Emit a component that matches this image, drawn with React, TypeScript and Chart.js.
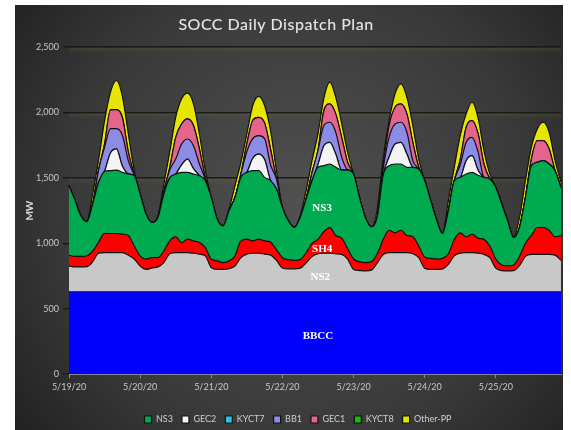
import React, { useEffect, useRef } from "react";
import { Chart, registerables } from "chart.js";

Chart.register(...registerables);

const chartTitle = "SOCC Daily Dispatch Plan";
const dates = ["5/19/20", "5/20/20", "5/21/20", "5/22/20", "5/23/20", "5/24/20", "5/25/20"];
const hoursOfDay = ["0:00", "2:00", "4:00", "6:00", "8:00", "10:00", "12:00", "14:00", "16:00", "18:00", "20:00", "22:00"];
const timeLabels = dates.flatMap((d) => hoursOfDay.map((h) => `${d} ${h}`));

const bbcc = [
  630,630,630,630,630,630,630,630,630,630,630,630,
  630,630,630,630,630,630,630,630,630,630,630,630,
  630,630,630,630,630,630,630,630,630,630,630,630,
  630,630,630,630,630,630,630,630,630,630,630,630,
  630,630,630,630,630,630,630,630,630,630,630,630,
  630,630,630,630,630,630,630,630,630,630,630,630,
  630,630,630,630,630,630,630,630,630,630,630,630,
];
const ns2 = [
  197,190,190,192,230,295,299,299,299,299,280,250,
  197,171,182,190,223,290,299,299,299,294,287,274,
  184,171,171,176,197,261,287,294,294,287,280,240,
  182,175,175,180,220,270,290,295,295,290,285,250,
  170,162,159,165,220,285,299,299,299,299,290,260,
  180,171,171,175,210,275,295,299,299,295,285,260,
  180,162,159,162,200,270,285,285,285,285,280,240,
];
const sh4 = [
  82,80,80,83,80,85,146,146,146,141,150,100,
  77,78,79,71,89,99,120,77,103,95,89,64,
  65,65,52,60,77,128,115,95,108,102,100,80,
  78,70,65,65,80,100,110,165,195,140,125,80,
  80,68,64,65,70,115,171,151,171,131,130,90,
  85,84,79,80,80,125,155,121,141,115,115,90,
  70,43,38,43,70,100,145,206,206,185,140,190,
];
const ns3 = [
  531,430,310,260,362,456,475,480,485,472,470,537,
  473,344,268,306,435,481,480,536,510,510,511,510,
  471,319,280,384,446,485,510,536,523,485,470,465,
  384,297,251,322,408,478,551,503,486,521,520,600,
  649,490,344,266,280,490,493,526,506,521,531,588,
  585,445,300,190,329,448,424,480,472,480,474,511,
  547,465,345,209,221,350,533,498,511,506,505,367,
];
const gec2 = [
  0,0,0,0,0,0,0,135,161,48,0,0,
  0,0,0,0,0,0,0,58,102,41,0,0,
  0,0,0,0,0,0,0,95,127,136,0,0,
  0,0,0,0,0,0,19,153,166,101,0,0,
  0,0,0,0,0,0,66,153,166,101,0,0,
  0,0,0,0,0,0,0,102,128,40,0,0,
  0,0,0,0,0,0,0,0,0,0,0,0,
];
const kyct7 = [
  0,0,0,0,0,0,0,0,0,0,0,0,
  0,0,0,0,0,0,0,0,0,0,0,0,
  0,0,0,0,0,0,0,0,0,0,0,0,
  0,0,0,0,0,0,0,0,0,0,0,0,
  0,0,0,0,0,0,0,0,0,0,0,0,
  0,0,0,0,0,0,0,0,0,0,0,0,
  0,0,0,0,0,0,0,0,0,0,0,0,
];
const bb1 = [
  0,0,0,0,0,94,184,187,156,236,102,3,
  0,0,0,0,23,60,115,159,153,176,89,12,
  0,0,0,0,0,26,158,150,141,160,120,76,
  0,0,0,0,0,62,108,154,153,167,99,0,
  0,0,0,0,0,50,151,153,153,167,51,0,
  0,0,0,0,0,0,96,140,140,140,0,0,
  0,0,0,0,0,0,0,0,0,0,0,0,
];
const gec1 = [
  0,0,0,0,0,0,26,143,145,137,68,0,
  0,0,0,0,0,20,166,154,154,154,115,10,
  0,0,0,0,0,0,60,140,140,120,120,0,
  0,0,0,0,0,0,0,115,141,140,151,59,
  0,0,0,0,0,20,90,128,141,140,140,13,
  0,0,0,0,0,0,40,115,128,140,102,0,
  0,0,0,0,0,0,51,166,153,115,0,0,
];
const kyct8 = [
  0,0,0,0,0,0,0,0,0,0,0,0,
  0,0,0,0,0,0,0,0,0,0,0,0,
  0,0,0,0,0,0,0,0,0,0,0,0,
  0,0,0,0,0,0,0,0,0,0,0,0,
  0,0,0,0,0,0,0,0,0,0,0,0,
  0,0,0,0,0,0,0,0,0,0,0,0,
  0,0,0,0,0,0,0,0,0,0,0,0,
];
const otherPP = [
  0,0,0,0,75,80,175,135,222,161,138,35,
  0,0,0,13,52,120,153,191,196,166,115,55,
  0,0,0,12,90,89,76,113,159,133,141,64,
  0,0,0,13,64,92,128,95,165,128,107,76,
  0,0,0,0,60,60,38,102,153,128,128,63,
  0,0,0,0,76,103,183,102,140,120,102,38,
  0,0,0,0,76,128,90,89,140,128,77,39,
];

const seriesNames = ["BBCC", "NS2", "SH4", "NS3", "GEC2", "KYCT7", "BB1", "GEC1", "KYCT8", "Other-PP"];
const legendSeries = ["NS3", "GEC2", "KYCT7", "BB1", "GEC1", "KYCT8", "Other-PP"];

// on-chart annotations
const annoText = ["NS3", "SH4", "NS2", "BBCC"];
const annoIndex = [42.7, 42.7, 42.4, 42.0];
const annoValue = [1272, 958, 743, 291];

const yTicks = [0, 500, 1000, 1500, 2000, 2500];

export default function App() {
  const ref = useRef<HTMLCanvasElement | null>(null);

  useEffect(() => {
    document.body.style.margin = "0";
    const canvas = ref.current;
    if (!canvas) return;

    const values = [bbcc, ns2, sh4, ns3, gec2, kyct7, bb1, gec1, kyct8, otherPP];
    const fills = ["#0000ff", "#c8c8c8", "#ff0000", "#00aa50", "#f4f4f4", "#22c8dc", "#8c8ce6", "#e4648c", "#12c012", "#e6e600"];
    const borders = ["#10106a", "#111", "#111", "#111", "#111", "#111", "#111", "#111", "#111", "#111"];

    const datasets = values.map((v, i) => ({
      label: seriesNames[i],
      data: v,
      backgroundColor: fills[i],
      borderColor: borders[i],
      borderWidth: 1.2,
      pointRadius: 0,
      fill: i === 0 ? "origin" : "-1",
      cubicInterpolationMode: "monotone" as const,
    }));

    const bgPlugin = {
      id: "panelBg",
      afterLayout(chart: any) {
        const lg = chart.legend;
        if (lg) {
          lg.left += 10;
          lg.right += 10;
          lg.top += 11;
          lg.bottom += 11;
        }
      },
      beforeDraw(chart: any) {
        const ctx = chart.ctx;
        ctx.save();
        ctx.fillStyle = "#ffffff";
        ctx.fillRect(0, 0, chart.width, chart.height);
        const g = ctx.createRadialGradient(300, 210, 10, 300, 210, 380);
        g.addColorStop(0, "#505050");
        g.addColorStop(0.6, "#393939");
        g.addColorStop(1, "#1e1e1e");
        ctx.fillStyle = g;
        ctx.fillRect(15, 5, 548, 425);
        // title
        ctx.fillStyle = "#e6e6e6";
        ctx.font = "500 16px Lato, sans-serif";
        try {
          (ctx as any).letterSpacing = "0.5px";
        } catch (e) {}
        ctx.textAlign = "center";
        ctx.textBaseline = "middle";
        ctx.fillText(chartTitle, 276, 25);
        ctx.restore();
      },
      beforeDatasetsDraw(chart: any) {
        const ctx = chart.ctx;
        const y = chart.scales.y;
        const a = chart.chartArea;
        ctx.save();
        yTicks.forEach((t) => {
          if (t === 0) return;
          const py = y.getPixelForValue(t);
          const gr = ctx.createLinearGradient(0, py, 0, py + 6);
          gr.addColorStop(0, "rgba(110,110,50,0.28)");
          gr.addColorStop(1, "rgba(110,110,50,0)");
          ctx.fillStyle = gr;
          ctx.fillRect(a.left, py + 1, a.right - a.left, 6);
        });
        ctx.restore();
      },
      afterDatasetsDraw(chart: any) {
        const ctx = chart.ctx;
        const x = chart.scales.x;
        const y = chart.scales.y;
        ctx.save();
        ctx.fillStyle = "#ffffff";
        ctx.font = "bold 11px 'Liberation Serif', serif";
        ctx.textAlign = "center";
        ctx.textBaseline = "middle";
        annoText.forEach((t, i) => {
          ctx.fillText(t, x.getPixelForValue(annoIndex[i]), y.getPixelForValue(annoValue[i]));
        });
        ctx.restore();
      },
    };

    const chart = new Chart(canvas, {
      type: "line",
      data: { labels: timeLabels, datasets },
      plugins: [bgPlugin],
      options: {
        responsive: false,
        animation: false,
        devicePixelRatio: 1,
        layout: { padding: { left: 15, right: 10, top: 47, bottom: 7 } },
        plugins: {
          title: { display: false },
          legend: {
            position: "bottom",
            labels: {
              color: "#cfcfcf",
              font: { family: "Lato", size: 9 },
              boxWidth: 7,
              boxHeight: 7,
              padding: 9,
              filter: (item: any) => legendSeries.includes(item.text),
            },
          },
          tooltip: { enabled: false },
        },
        scales: {
          x: {
            type: "category",
            offset: false,
            afterBuildTicks: (scale: any) => {
              scale.ticks = scale.ticks.filter((t: any) => t.value % 12 === 0);
            },
            ticks: {
              autoSkip: false,
              maxRotation: 0,
              color: "#c8c8c8",
              font: { family: "Lato", size: 9 },
              padding: 3,
              callback: (v: any) => String(timeLabels[v]).split(" ")[0],
            },
            grid: { display: true, drawOnChartArea: false, drawTicks: true, tickLength: 4, color: "#888" },
            border: { display: true, color: "#8a8a8a" },
          },
          y: {
            stacked: true,
            min: 0,
            max: 2500,
            afterFit: (scale: any) => {
              scale.width = 54;
            },
            afterBuildTicks: (scale: any) => {
              scale.ticks = yTicks.map((v) => ({ value: v }));
            },
            ticks: {
              color: "#c8c8c8",
              font: { family: "Lato", size: 9 },
              padding: 4,
              callback: (v: any) => Number(v).toLocaleString("en-US"),
            },
            grid: { color: "#1a1a1a", lineWidth: 1.5, tickLength: 6 },
            border: { display: false },
            title: {
              display: true,
              text: "MW",
              color: "#dddddd",
              font: { family: "Lato", size: 10, weight: "bold" },
              padding: { top: 9, bottom: 0 },
            },
          },
        },
      },
    });

    return () => chart.destroy();
  }, []);

  return (
    <div style={{ width: 571, height: 430 }}>
      <canvas ref={ref} width={571} height={430} style={{ display: "block" }} />
    </div>
  );
}
